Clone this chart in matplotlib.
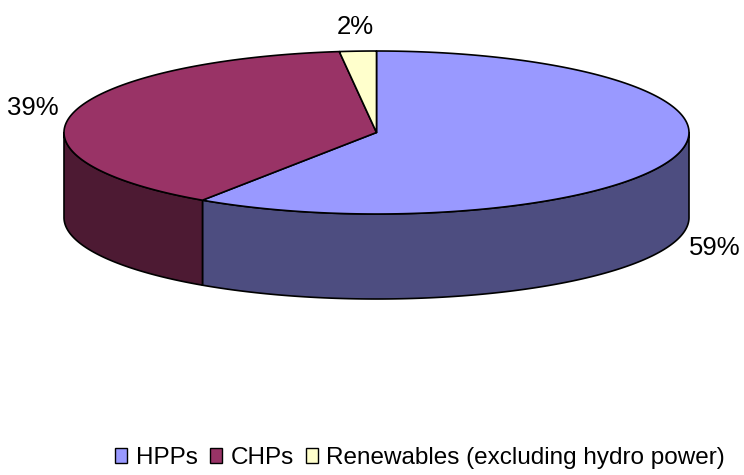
import numpy as np
import matplotlib
matplotlib.use('Agg')
import matplotlib.pyplot as plt
from matplotlib.patches import Polygon, Patch

plt.rcParams['font.family'] = ['Liberation Sans', 'DejaVu Sans']

labels = ['HPPs', 'CHPs', 'Renewables (excluding hydro power)']
shares = [59.4, 38.7, 1.9]  # %
top_colors = ['#9999ff', '#993366', '#ffffcc']
side_colors = ['#4d4d80', '#4d1a33', '#80806a']

# layout of the 3d pie, in pixels
cx, cy = 376.5, 132.5
rx, ry = 312.5, 81.5
depth = 85


def pt(theta, dz=0.0):
    t = np.radians(theta)
    return cx + rx * np.cos(t), cy - ry * np.sin(t) + dz


def arc(a, b, dz=0.0, n=200):
    th = np.linspace(a, b, n)
    return [pt(t, dz) for t in th]


def front_part(a1, a0):
    # visible side wall: angles with sin < 0, i.e. [-180, 0] mod 360
    out = []
    for lo, hi in [(-540, -360), (-180, 0), (180, 360)]:
        s, e = max(a1, lo), min(a0, hi)
        if e > s:
            out.append((s, e))
    return out


fig = plt.figure(figsize=(7.44, 4.75), dpi=100)
ax = fig.add_axes([0, 0, 1, 1])
ax.set_xlim(0, 744)
ax.set_ylim(475, 0)
ax.axis('off')

fracs = np.array(shares) / sum(shares)
starts = 90 - 360 * np.concatenate([[0], np.cumsum(fracs)[:-1]])
ends = starts - 360 * fracs

# side walls
for i in range(len(shares)):
    for s, e in front_part(ends[i], starts[i]):
        pts = arc(s, e) + arc(e, s, depth)
        ax.add_patch(Polygon(pts, closed=True, facecolor=side_colors[i],
                             edgecolor='black', lw=1.2, joinstyle='round'))

# top faces
for i in range(len(shares)):
    pts = [(cx, cy)] + arc(starts[i], ends[i])
    ax.add_patch(Polygon(pts, closed=True, facecolor=top_colors[i],
                         edgecolor='black', lw=1.2, joinstyle='round'))

# percentage labels
for i in range(len(shares)):
    mid = (starts[i] + ends[i]) / 2
    t = np.radians(mid)
    x = cx + 1.13 * rx * np.cos(t)
    y = cy - 1.3 * ry * np.sin(t) + (depth if np.sin(t) < 0 else 0)
    ax.text(x, y, '%.0f%%' % shares[i], ha='center', va='center', fontsize=18.5)

handles = [Patch(facecolor=c, edgecolor='black', lw=1) for c in top_colors]
ax.legend(handles, labels, loc='center', bbox_to_anchor=(420 / 744, 1 - 458 / 475),
          ncol=3, frameon=False, fontsize=17.5, handlelength=0.5, handleheight=0.55,
          handletextpad=0.35, columnspacing=0.5, borderaxespad=0, borderpad=0)

fig.savefig('out.png', dpi=100)
